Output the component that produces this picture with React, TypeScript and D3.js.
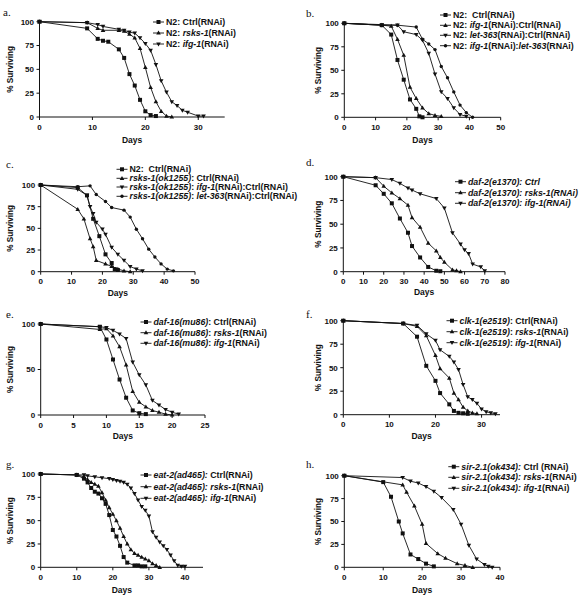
import React from "react";
import * as d3 from "d3";

type Pt = [number, number];

// ---------- DATA ----------
// a.
const A_CTRL: Pt[] = [[0,100],[9,93],[11,82],[12,80],[13,79],[15,71],[16,62],[17,45],[18,33],[19,18],[20,6],[21,2],[22,1]];
const A_RSKS: Pt[] = [[0,100],[9,99],[11,93],[12,91],[15,91],[16,90],[17,87],[18,83],[19,72],[20,52],[21,31],[22,16],[23,6],[24,1],[25,0]];
const A_IFG: Pt[] = [[0,100],[9,99],[11,97],[12,95],[15,92],[16,91],[17,89],[18,88],[19,83],[20,77],[21,70],[22,55],[23,38],[24,26],[25,16],[26,12],[27,7],[28,5],[30,1],[31,1]];
// b.
const B_CTRL: Pt[] = [[0,100],[12,98],[15,88],[17,61],[19,40],[21,19],[23,9],[24,1],[25,0]];
const B_IFG: Pt[] = [[0,100],[12,98],[15,97],[17,83],[19,66],[21,32],[23,20],[25,10],[27,4],[29,2],[31,1]];
const B_LET: Pt[] = [[0,100],[12,98],[17,98],[19,91],[23,88],[25,82],[27,68],[29,46],[31,27],[33,20],[35,10],[37,3],[39,1]];
const B_IFGLET: Pt[] = [[0,100],[17,98],[23,96],[25,83],[27,78],[29,72],[31,54],[33,42],[35,27],[37,13],[39,5],[41,0]];
// c.
const C_N2: Pt[] = [[0,100],[12,97],[15,88],[17,61],[19,41],[21,20],[23,10],[24,3],[25,2]];
const C_OK: Pt[] = [[0,100],[12,72],[14,61],[16,38],[17,29],[18,13],[21,9],[23,6],[25,3],[27,1],[29,0]];
const C_IFG: Pt[] = [[0,100],[12,95],[15,88],[16,75],[17,67],[18,57],[20,49],[21,43],[23,28],[25,20],[27,13],[29,6],[31,3],[33,1]];
const C_LET: Pt[] = [[0,100],[12,98],[16,99],[18,89],[21,81],[23,74],[27,71],[29,63],[31,49],[33,38],[35,26],[37,17],[39,9],[41,3],[43,1]];
// d.
const D_CTRL: Pt[] = [[0,100],[16,91],[20,82],[24,72],[28,56],[32,41],[34,27],[38,15],[42,5],[46,1],[48,0.5]];
const D_RSKS: Pt[] = [[0,100],[16,99],[20,90],[24,83],[28,77],[32,70],[34,57],[38,47],[42,30],[46,22],[48,15],[50,10],[54,2],[56,1],[58,0]];
const D_IFG: Pt[] = [[0,100],[16,99],[24,97],[28,93],[32,88],[34,86],[38,82],[46,77],[50,67],[54,41],[58,29],[60,23],[62,19],[64,8],[68,5],[70,1]];
// e.
const E_CTRL: Pt[] = [[0,100],[9,97],[10,83],[11,61],[12,39],[13,19],[14,5],[15,2],[16,1]];
const E_RSKS: Pt[] = [[0,100],[9,94],[10,95],[11,87],[12,75],[13,55],[14,26],[15,14],[16,9],[17,5],[18,3],[19,1],[20,0]];
const E_IFG: Pt[] = [[0,100],[9,97],[10,96],[11,93],[12,89],[13,84],[14,58],[15,44],[16,33],[17,16],[18,11],[19,6],[20,3],[21,1]];
// f.
const F_CTRL: Pt[] = [[0,100],[13,97],[16,83],[18,52],[20,36],[21,23],[23,11],[24,4],[25,2],[26,1.5],[27,1]];
const F_RSKS: Pt[] = [[0,100],[13,97],[16,94],[18,84],[20,63],[21,49],[23,39],[24,23],[25,16],[26,8],[27,4],[28,2],[29,1]];
const F_IFG: Pt[] = [[0,100],[13,97],[16,95],[18,86],[20,79],[21,69],[23,62],[24,56],[25,48],[26,32],[27,19],[28,16],[29,12],[30,6],[31,3],[32,2],[33,1]];
// g.
const G_CTRL: Pt[] = [[0,100],[10,99],[12,95],[13,91],[14,85],[15,81],[16,79],[17,74],[18,68],[19,56],[20,40],[21,33],[22,23],[23,11],[24,5],[26,2],[27,2],[28,1],[29,1]];
const G_RSKS: Pt[] = [[0,100],[10,99],[12,97],[13,94],[14,91],[15,89],[16,87],[17,80],[18,72],[19,64],[20,57],[21,50],[22,42],[23,33],[24,25],[25,19],[26,15],[27,13],[28,11],[29,9],[30,7],[31,4],[32,2],[33,0]];
const G_IFG: Pt[] = [[0,100],[10,99],[12,99],[13,98],[15,97],[17,96],[19,95],[20,94],[21,93],[22,92],[23,91],[24,89],[25,85],[26,79],[27,72],[28,65],[29,61],[30,55],[31,38],[32,32],[33,27],[34,23],[35,19],[36,13],[37,7],[38,2],[39,1],[40,1]];
// h.
const H_CTRL: Pt[] = [[0,100],[10,93],[12,77],[14,50],[15,37],[17,14],[19,9],[21,4],[23,1]];
const H_RSKS: Pt[] = [[0,100],[15,90],[16,82],[18,67],[20,47],[21,26],[24,15],[26,10],[29,4],[31,2],[33,0]];
const H_IFG: Pt[] = [[0,100],[15,98],[17,94],[19,92],[21,88],[23,83],[25,76],[28,63],[30,47],[32,24],[34,9],[36,3],[37,1],[38,0]];

// tick labels
const Y_TICKS = [0, 25, 50, 75, 100];
const Y_TICKS_E = [0, 50, 100];
const A_XTICKS = [0, 10, 20, 30];
const B_XTICKS = [0, 10, 20, 30, 40, 50];
const C_XTICKS = [0, 10, 20, 30, 40, 50];
const D_XTICKS = [0, 10, 20, 30, 40, 50, 60, 70, 80];
const E_XTICKS = [0, 5, 10, 15, 20, 25];
const F_XTICKS = [0, 10, 20, 30];
const G_XTICKS = [0, 10, 20, 30, 40];
const H_XTICKS = [0, 10, 20, 30, 40];

// legend labels: [text, italic]
type Seg = [string, boolean];
const A_LEG: Seg[][] = [[["N2: Ctrl(RNAi)", false]], [["N2: ", false], ["rsks-1", true], ["(RNAi)", false]], [["N2: ", false], ["ifg-1", true], ["(RNAi)", false]]];
const B_LEG: Seg[][] = [[["N2:  Ctrl(RNAi)", false]], [["N2: ", false], ["ifg-1", true], ["(RNAi):Ctrl(RNAi)", false]], [["N2: ", false], ["let-363", true], ["(RNAi):Ctrl(RNAi)", false]], [["N2: ", false], ["ifg-1", true], ["(RNAi):", false], ["let-363", true], ["(RNAi)", false]]];
const C_LEG: Seg[][] = [[["N2:  Ctrl(RNAi)", false]], [["rsks-1(ok1255)", true], [": Ctrl(RNAi)", false]], [["rsks-1(ok1255)", true], [": ", false], ["ifg-1", true], ["(RNAi):Ctrl(RNAi)", false]], [["rsks-1(ok1255)", true], [": ", false], ["let-363", true], ["(RNAi):Ctrl(RNAi)", false]]];
const D_LEG: Seg[][] = [[["daf-2(e1370): Ctrl", true]], [["daf-2(e1370): rsks-1(RNAi)", true]], [["daf-2(e1370): ifg-1(RNAi)", true]]];
const E_LEG: Seg[][] = [[["daf-16(mu86)", true], [": Ctrl(RNAi)", false]], [["daf-16(mu86)", true], [": ", false], ["rsks-1", true], ["(RNAi)", false]], [["daf-16(mu86)", true], [": ", false], ["ifg-1", true], ["(RNAi)", false]]];
const F_LEG: Seg[][] = [[["clk-1(e2519)", true], [": Ctrl(RNAi)", false]], [["clk-1(e2519)", true], [": ", false], ["rsks-1", true], ["(RNAi)", false]], [["clk-1(e2519)", true], [": ", false], ["ifg-1", true], ["(RNAi)", false]]];
const G_LEG: Seg[][] = [[["eat-2(ad465):", true], [" Ctrl(RNAi)", false]], [["eat-2(ad465):", true], [" ", false], ["rsks-1", true], ["(RNAi)", false]], [["eat-2(ad465):", true], [" ", false], ["ifg-1", true], ["(RNAi)", false]]];
const H_LEG: Seg[][] = [[["sir-2.1(ok434):", true], [" Ctrl (RNAi)", false]], [["sir-2.1(ok434):", true], [" ", false], ["rsks-1", true], ["(RNAi)", false]], [["sir-2.1(ok434):", true], [" ", false], ["ifg-1", true], ["(RNAi)", false]]];

// ---------- LAYOUT ----------
type Shape = "square" | "up" | "down" | "circle";
const SHAPES: Shape[] = ["square", "up", "down", "circle"];

interface PanelDef {
  label: string; lx: number; ly: number;
  left: number; right: number; top: number; bottom: number;
  xMax: number; xTicks: number[]; yTicks: number[];
  yLabX: number; daysY: number;
  legX: number; legRows: number[];
  series: Pt[][]; legend: Seg[][];
}

const PANELS: PanelDef[] = [
  { label: "a.", lx: 3, ly: 16, left: 39.5, right: 224.7, top: 21.7, bottom: 117, xMax: 35, xTicks: A_XTICKS, yTicks: Y_TICKS, yLabX: 10, daysY: 143, legX: 153, legRows: [22, 33, 44], series: [A_CTRL, A_RSKS, A_IFG], legend: A_LEG },
  { label: "b.", lx: 306, ly: 17, left: 344.3, right: 500.7, top: 23.3, bottom: 117.3, xMax: 50, xTicks: B_XTICKS, yTicks: Y_TICKS, yLabX: 318, daysY: 143, legX: 440, legRows: [15, 25.3, 35.3, 45.7], series: [B_CTRL, B_IFG, B_LET, B_IFGLET], legend: B_LEG },
  { label: "c.", lx: 6, ly: 168, left: 40.7, right: 195, top: 185, bottom: 271.7, xMax: 50, xTicks: C_XTICKS, yTicks: Y_TICKS, yLabX: 10, daysY: 296, legX: 116.5, legRows: [169.3, 178.3, 187, 196.3], series: [C_N2, C_OK, C_IFG, C_LET], legend: C_LEG },
  { label: "d.", lx: 306, ly: 166, left: 343.3, right: 505, top: 176.7, bottom: 271.7, xMax: 80, xTicks: D_XTICKS, yTicks: Y_TICKS, yLabX: 318, daysY: 294.5, legX: 455, legRows: [181.7, 192.7, 203.3], series: [D_CTRL, D_RSKS, D_IFG], legend: D_LEG },
  { label: "e.", lx: 6, ly: 318, left: 40.7, right: 205, top: 324, bottom: 415, xMax: 25, xTicks: E_XTICKS, yTicks: Y_TICKS_E, yLabX: 10, daysY: 439, legX: 140.5, legRows: [322, 332.7, 343.3], series: [E_CTRL, E_RSKS, E_IFG], legend: E_LEG },
  { label: "f.", lx: 306, ly: 318, left: 343.3, right: 500, top: 320.7, bottom: 414.7, xMax: 34, xTicks: F_XTICKS, yTicks: Y_TICKS, yLabX: 318, daysY: 439, legX: 446.5, legRows: [320.7, 331.7, 342.7], series: [F_CTRL, F_RSKS, F_IFG], legend: F_LEG },
  { label: "g.", lx: 6, ly: 468, left: 40.7, right: 203, top: 474, bottom: 567.3, xMax: 45, xTicks: G_XTICKS, yTicks: Y_TICKS, yLabX: 10, daysY: 593, legX: 140.5, legRows: [475, 486.7, 498.3], series: [G_CTRL, G_RSKS, G_IFG], legend: G_LEG },
  { label: "h.", lx: 306, ly: 468, left: 344.3, right: 500, top: 475.7, bottom: 567.3, xMax: 40, xTicks: H_XTICKS, yTicks: Y_TICKS, yLabX: 318, daysY: 592.5, legX: 448.3, legRows: [466.7, 477.3, 488.3], series: [H_CTRL, H_RSKS, H_IFG], legend: H_LEG },
];

const SANS = "'Liberation Sans', Arial, Helvetica, sans-serif";
const SERIF = "'Liberation Serif', 'Times New Roman', serif";

function Marker({ shape, x, y }: { shape: Shape; x: number; y: number }) {
  const s = 2;
  if (shape === "square") return <rect x={x - s} y={y - s} width={2 * s} height={2 * s} fill="#111" />;
  if (shape === "up") return <path d={`M${x},${y - 2.4}L${x + 2.3},${y + 1.6}L${x - 2.3},${y + 1.6}Z`} fill="#111" />;
  if (shape === "down") return <path d={`M${x},${y + 2.4}L${x + 2.3},${y - 1.6}L${x - 2.3},${y - 1.6}Z`} fill="#111" />;
  return <circle cx={x} cy={y} r={1.7} fill="#111" />;
}

function Panel({ p }: { p: PanelDef }) {
  const x = d3.scaleLinear().domain([0, p.xMax]).range([p.left, p.right]);
  const y = d3.scaleLinear().domain([0, 100]).range([p.bottom, p.top]);
  const line = d3.line<Pt>().x((d) => x(d[0])).y((d) => y(d[1]));
  const tick = 3;
  return (
    <g>
      <text x={p.lx} y={p.ly} fontFamily={SERIF} fontSize={11} fill="#111">{p.label}</text>
      <line x1={p.left} x2={p.left} y1={p.top} y2={p.bottom} stroke="#111" strokeWidth={1} />
      <line x1={p.left} x2={p.right} y1={p.bottom} y2={p.bottom} stroke="#111" strokeWidth={1} />
      {p.yTicks.map((t) => (
        <g key={"y" + t}>
          <line x1={p.left - tick} x2={p.left} y1={y(t)} y2={y(t)} stroke="#111" />
          <text x={p.left - 5.5} y={y(t) + 2.9} textAnchor="end" fontFamily={SANS} fontWeight="bold" fontSize={8} fill="#111">{t}</text>
        </g>
      ))}
      {p.xTicks.map((t) => (
        <g key={"x" + t}>
          <line x1={x(t)} x2={x(t)} y1={p.bottom} y2={p.bottom + tick} stroke="#111" />
          <text x={x(t)} y={p.bottom + 12.5} textAnchor="middle" fontFamily={SANS} fontWeight="bold" fontSize={8} fill="#111">{t}</text>
        </g>
      ))}
      <text x={(p.left + p.right) / 2} y={p.daysY} textAnchor="middle" fontFamily={SANS} fontWeight="bold" fontSize={8.5} fill="#111">Days</text>
      <text transform={`translate(${p.yLabX + 3},${(p.top + p.bottom) / 2}) rotate(-90)`} textAnchor="middle" fontFamily={SANS} fontWeight="bold" fontSize={8.2} fill="#111">% Surviving</text>
      {p.series.map((s, i) => (
        <g key={"s" + i}>
          <path d={line(s) || ""} fill="none" stroke="#111" strokeWidth={0.9} />
          {s.map((d, j) => <Marker key={j} shape={SHAPES[i]} x={x(d[0])} y={y(d[1])} />)}
        </g>
      ))}
      {p.legend.map((segs, i) => (
        <g key={"l" + i}>
          <line x1={p.legX} x2={p.legX + 11} y1={p.legRows[i]} y2={p.legRows[i]} stroke="#111" strokeWidth={0.9} />
          <Marker shape={SHAPES[i]} x={p.legX + 5.5} y={p.legRows[i]} />
          <text x={p.legX + 13} y={p.legRows[i] + 3.1} fontFamily={SANS} fontWeight="bold" fontSize={8.8} fill="#111" style={{ whiteSpace: "pre" }}>
            {segs.map((sg, k) => (
              <tspan key={k} fontStyle={sg[1] ? "italic" : "normal"}>{sg[0]}</tspan>
            ))}
          </text>
        </g>
      ))}
    </g>
  );
}

export default function App() {
  return (
    <svg width={583} height={600} style={{ position: "absolute", left: 0, top: 0, background: "#fff" }}>
      <rect x={0} y={0} width={583} height={600} fill="#fff" />
      {PANELS.map((p) => <Panel key={p.label} p={p} />)}
    </svg>
  );
}
